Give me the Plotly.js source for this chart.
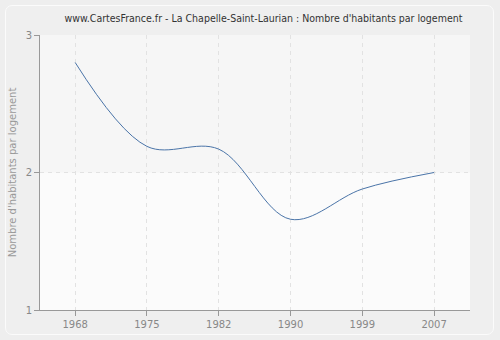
<!DOCTYPE html>
<html>
<head>
<meta charset="utf-8">
<script src="https://cdn.plot.ly/plotly-3.0.1.min.js"></script>
<style>
  html, body { margin: 0; padding: 0; background: #eeeeee; }
  #wrap { position: relative; width: 500px; height: 340px; }
  #frame { position: absolute; left: 5px; top: 5px; width: 487px; height: 328px;
           border: 1px solid #fbfbfb; border-radius: 7px; box-sizing: content-box; background: #efefef; }
  #chart { position: absolute; left: 0; top: 0; width: 500px; height: 340px; }
</style>
</head>
<body>
<div id="wrap">
  <div id="frame"></div>
  <div id="chart"></div>
</div>
<script>
const years = ['1968', '1975', '1982', '1990', '1999', '2007'];
const values = [2.80, 2.19, 2.17, 1.66, 1.88, 2.00];
const yTicks = [1, 2, 3];

const trace = {
  x: years,
  y: values,
  type: 'scatter',
  mode: 'lines',
  line: { color: '#4a74a8', width: 1, shape: 'spline', smoothing: 1 },
  hoverinfo: 'skip'
};

const layout = {
  width: 500, height: 340,
  margin: { l: 40, r: 30, t: 35, b: 30 },
  paper_bgcolor: 'rgba(0,0,0,0)',
  plot_bgcolor: '#fbfbfb',
  showlegend: false,
  font: { family: 'DejaVu Sans, Verdana, sans-serif', size: 10, color: '#888' },
  title: {
    text: "www.CartesFrance.fr - La Chapelle-Saint-Laurian : Nombre d'habitants par logement",
    font: { family: 'DejaVu Sans Condensed, Liberation Sans, sans-serif', size: 10.5, color: '#333' },
    x: 0.527, xanchor: 'center', y: 0.947, yanchor: 'middle'
  },
  xaxis: {
    type: 'category',
    range: [-0.49, 5.5],
    showline: true, linecolor: '#999', linewidth: 1,
    ticks: 'outside', ticklen: 5, tickcolor: '#999',
    showgrid: true, gridcolor: '#e2e2e2', griddash: '4px,4px', gridwidth: 1,
    tickfont: { size: 10, color: '#888' },
    zeroline: false, fixedrange: true
  },
  yaxis: {
    range: [1, 3],
    tickvals: yTicks,
    ticktext: yTicks.map(String),
    showline: true, linecolor: '#999', linewidth: 1,
    ticks: 'outside', ticklen: 5, tickcolor: '#999',
    showgrid: true, gridcolor: '#e2e2e2', griddash: '4px,4px', gridwidth: 1,
    tickfont: { size: 10, color: '#888' },
    title: { text: "Nombre d'habitants par logement", font: { size: 10, color: '#999' }, standoff: 7 },
    zeroline: false, fixedrange: true
  },
  shapes: [
    { type: 'rect', xref: 'paper', yref: 'paper', x0: 0, x1: 1, y0: 0.5, y1: 1,
      fillcolor: '#f6f6f6', line: { width: 0 }, layer: 'below' }
  ]
};

Plotly.newPlot('chart', [trace], layout, { displayModeBar: false, staticPlot: true });
</script>
</body>
</html>
